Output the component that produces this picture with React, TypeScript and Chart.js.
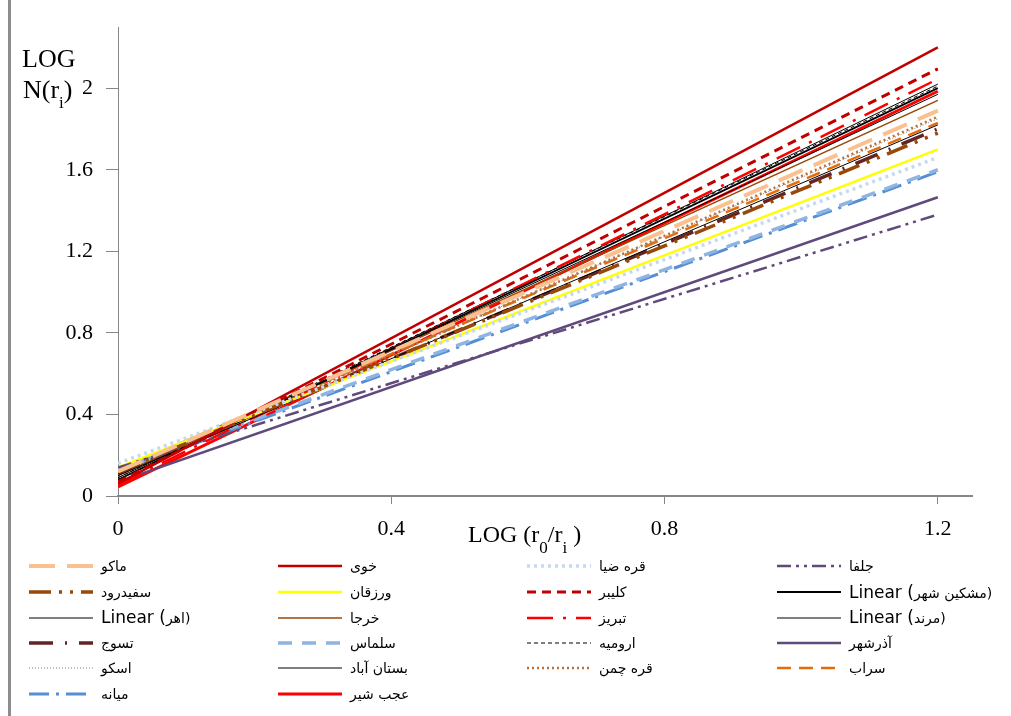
import React, { useEffect, useRef } from "react";
import { Chart, registerables } from "chart.js";

Chart.register(...registerables);

const xValues = [0, 1.2];
const xTickValues = [0, 0.4, 0.8, 1.2];
const xTickLabels = ["0", "0.4", "0.8", "1.2"];
const yTickValues = [0, 0.4, 0.8, 1.2, 1.6, 2];
const yTickLabels = ["0", "0.4", "0.8", "1.2", "1.6", "2"];

const seriesNames = [
  "ماکو", "خوی", "قره ضیا", "جلفا",
  "سفیدرود", "ورزقان", "کلیبر", "Linear (مشکین شهر)",
  "Linear (اهر)", "خرجا", "تبریز", "Linear (مرند)",
  "تسوج", "سلماس", "ارومیه", "آذرشهر",
  "اسکو", "بستان آباد", "قره چمن", "سراب",
  "میانه", "عجب شیر",
];
const startValues = [
  0.12, 0.06, 0.16, 0.14,
  0.12, 0.14, 0.07, 0.08,
  0.10, 0.10, 0.055, 0.09,
  0.11, 0.13, 0.09, 0.07,
  0.12, 0.08, 0.11, 0.13,
  0.12, 0.045,
];
const endValues = [
  1.89, 2.2, 1.66, 1.38,
  1.78, 1.7, 2.095, 2.0,
  1.82, 1.94, 2.045, 1.97,
  1.8, 1.6, 2.01, 1.465,
  1.85, 2.02, 1.86, 1.83,
  1.59, 1.985,
];

const seriesColors = [
  "#FAC090", "#C00000", "#C6D9F1", "#604A7B",
  "#984807", "#FFFF00", "#C00000", "#000000",
  "#000000", "#984807", "#FF0000", "#000000",
  "#632523", "#8DB4E2", "#000000", "#604A7B",
  "#7F7F7F", "#000000", "#B9723A", "#E46C0A",
  "#558ED5", "#FF0000",
];
const seriesWidths = [
  4, 2.5, 3.5, 2.5,
  3.5, 2.5, 3, 1.8,
  1, 1.5, 2.5, 1,
  3.5, 3.5, 1, 2.5,
  1, 1, 2.5, 2.5,
  3, 3,
];
const seriesDashes: number[][] = [
  [26, 12], [], [3, 4], [14, 5, 3, 5, 3, 5],
  [22, 8, 3, 8, 3, 8], [], [9, 6], [],
  [], [], [26, 10, 3, 10], [],
  [24, 12, 2, 12], [14, 10], [4, 3], [],
  [1, 2], [], [2, 3], [14, 8],
  [20, 7, 3, 7], [],
];

const legendRowTops = [566, 592, 617.5, 643, 668, 694];
const legendColLefts = [29, 278, 527, 777];

const serif = "'Liberation Serif', 'Times New Roman', serif";

const titlePlugin = {
  id: "titles",
  afterDraw(chart: any) {
    const ctx = chart.ctx;
    ctx.save();
    ctx.fillStyle = "#000";
    ctx.textBaseline = "alphabetic";
    ctx.textAlign = "left";
    // y title
    ctx.font = `26px ${serif}`;
    ctx.fillText("LOG", 22, 67);
    let x = 23;
    ctx.fillText("N(r", x, 98);
    x += ctx.measureText("N(r").width;
    ctx.font = `17px ${serif}`;
    ctx.fillText("i", x, 108);
    x += ctx.measureText("i").width;
    ctx.font = `26px ${serif}`;
    ctx.fillText(")", x, 98);
    // x title
    x = 468;
    ctx.font = `24px ${serif}`;
    ctx.fillText("LOG (r", x, 542);
    x += ctx.measureText("LOG (r").width;
    ctx.font = `17px ${serif}`;
    ctx.fillText("0", x, 553);
    x += ctx.measureText("0").width;
    ctx.font = `24px ${serif}`;
    ctx.fillText("/r", x, 542);
    x += ctx.measureText("/r").width;
    ctx.font = `17px ${serif}`;
    ctx.fillText("i", x, 553);
    x += ctx.measureText("i").width;
    ctx.font = `24px ${serif}`;
    ctx.fillText(" )", x, 542);
    ctx.restore();
  },
};

function LegendLabel({ text }: { text: string }) {
  if (text.startsWith("Linear (")) {
    return (
      <span>
        <span style={{ fontFamily: "'DejaVu Sans', sans-serif", fontSize: 17 }}>Linear (</span>
        {text.slice(8, -1)}
        <span style={{ fontSize: 14 }}>)</span>
      </span>
    );
  }
  return <span>{text}</span>;
}

export default function App() {
  const canvasRef = useRef<HTMLCanvasElement | null>(null);

  useEffect(() => {
    if (!canvasRef.current) return;
    const datasets = seriesNames.map((name, k) => ({
      label: name,
      data: xValues.map((x, i) => ({ x, y: i === 0 ? startValues[k] : endValues[k] })),
      borderColor: seriesColors[k],
      backgroundColor: seriesColors[k],
      borderWidth: seriesWidths[k],
      borderDash: seriesDashes[k],
      pointRadius: 0,
      tension: 0,
      fill: false,
    }));
    const chart = new Chart(canvasRef.current, {
      type: "line",
      data: { datasets },
      options: {
        animation: false,
        responsive: false,
        maintainAspectRatio: false,
        layout: { padding: { top: 27, right: 39, left: 0, bottom: 0 } },
        plugins: { legend: { display: false }, tooltip: { enabled: false } },
        scales: {
          x: {
            type: "linear",
            min: 0,
            max: 1.25,
            afterBuildTicks: (s: any) => {
              s.ticks = xTickValues.map((v) => ({ value: v }));
            },
            afterFit: (s: any) => {
              s.height = 220;
            },
            ticks: {
              autoSkip: false,
              maxRotation: 0,
              padding: 12,
              color: "#000",
              font: { family: serif, size: 22 },
              callback: (v: any) => xTickLabels[xTickValues.indexOf(Number(v))] ?? "",
            },
            grid: { drawOnChartArea: false, drawTicks: true, tickLength: 8, color: "#868686" },
            border: { color: "#868686", width: 2 },
          },
          y: {
            type: "linear",
            min: 0,
            max: 2.3,
            afterBuildTicks: (s: any) => {
              s.ticks = yTickValues.map((v) => ({ value: v }));
            },
            afterFit: (s: any) => {
              s.width = 118;
            },
            ticks: {
              autoSkip: false,
              padding: 13,
              color: "#000",
              font: { family: serif, size: 22 },
              callback: (v: any) => yTickLabels[yTickValues.indexOf(Number(v))] ?? "",
            },
            grid: { drawOnChartArea: false, drawTicks: true, tickLength: 12, color: "#868686" },
            border: { color: "#868686", width: 1 },
          },
        },
      },
      plugins: [titlePlugin],
    });
    return () => chart.destroy();
  }, []);

  return (
    <div style={{ position: "absolute", left: 0, top: 0, width: 1011, height: 716, background: "#fff", overflow: "hidden" }}>
      <canvas ref={canvasRef} width={1011} height={716} style={{ position: "absolute", left: 0, top: 0, display: "block" }} />
      <div style={{ position: "absolute", left: 8, top: 0, width: 3, height: 716, background: "#8C8C8C" }} />
      {seriesNames.map((name, k) => {
        const row = Math.floor(k / 4);
        const col = k % 4;
        const top = legendRowTops[row];
        const left = legendColLefts[col];
        return (
          <div key={k} style={{ position: "absolute", left, top: top - 12, height: 24, display: "flex", alignItems: "center", whiteSpace: "nowrap" }}>
            <svg width={64} height={24} style={{ display: "block" }}>
              <line
                x1={0}
                y1={12}
                x2={64}
                y2={12}
                stroke={seriesColors[k]}
                strokeWidth={seriesWidths[k]}
                strokeDasharray={seriesDashes[k].length ? seriesDashes[k].join(" ") : undefined}
              />
            </svg>
            <div style={{ marginLeft: 8, fontFamily: "'DejaVu Sans', sans-serif", fontSize: 14, color: "#000", lineHeight: "24px" }}>
              <LegendLabel text={name} />
            </div>
          </div>
        );
      })}
    </div>
  );
}
